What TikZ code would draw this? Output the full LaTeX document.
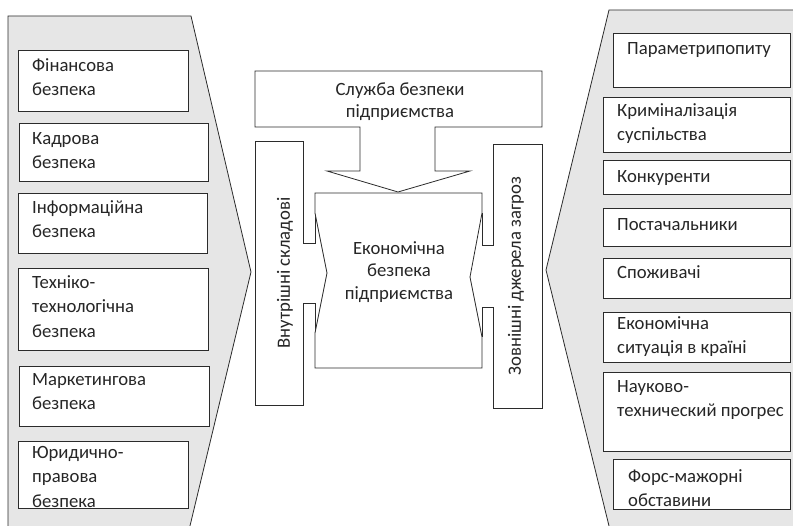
\documentclass[tikz,border=0pt]{standalone}
\usepackage{fontspec}
\setmainfont{Carlito}
\definecolor{panelgray}{HTML}{E6E6E6}
\definecolor{edge}{HTML}{2B2B2B}
\begin{document}
\begin{tikzpicture}[x=1pt,y=-1pt,
    box/.style={draw=edge,line width=0.8pt,fill=white,anchor=north west,inner sep=0pt},
    txt/.style={anchor=north west,inner sep=0pt,align=left,text=black!85,font=\fontsize{18.7}{24.5}\selectfont},
    ctxt/.style={anchor=north,inner sep=0pt,align=center,text=black!85,font=\fontsize{18.7}{22.5}\selectfont},
    vtxt/.style={rotate=90,inner sep=0pt,text=black!85,font=\fontsize{18.7}{22.5}\selectfont},
    panel/.style={draw=edge,line width=0.8pt,fill=panelgray},
    part/.style={draw=edge,line width=0.8pt,fill=white}]
  \clip (0,0) rectangle (793,526);
  % side panels
  \draw[panel] (8,16) -- (191,16) -- (251,272) -- (189,530) -- (8,530) -- cycle;
  \draw[panel] (609,10) -- (800,10) -- (800,530) -- (610,530) -- (546,270) -- cycle;
  % inner components
  \node[box,minimum width=170pt,minimum height=61pt] (fin) at (18,50) {};
  \node[box,minimum width=189pt,minimum height=58pt] (kadr) at (19,123) {};
  \node[box,minimum width=189pt,minimum height=60pt] (inf) at (18,193) {};
  \node[box,minimum width=190pt,minimum height=82pt] (tech) at (18,268) {};
  \node[box,minimum width=190pt,minimum height=60pt] (mark) at (19,366) {};
  \node[box,minimum width=170pt,minimum height=67pt] (yur) at (18,441) {};
  \node[txt] (fin-t) at (32,53.9) {\strut Фінансова\\безпека};
  \node[txt] (kadr-t) at (32,126.9) {\strut Кадрова\\безпека};
  \node[txt] (inf-t) at (32,195.9) {\strut Інформаційна\\безпека};
  \node[txt] (tech-t) at (32,270.9) {\strut Техніко-\\технологічна\\безпека};
  \node[txt] (mark-t) at (32,367.9) {\strut Маркетингова\\безпека};
  \node[txt] (yur-t) at (32,440.9) {\strut Юридично-\\правова\\безпека};
  % external threats
  \node[box,minimum width=177pt,minimum height=54pt] (par) at (613,33) {};
  \node[box,minimum width=187pt,minimum height=55pt] (krim) at (603,97) {};
  \node[box,minimum width=187pt,minimum height=34pt] (konk) at (603,160) {};
  \node[box,minimum width=187pt,minimum height=38pt] (post) at (603,208) {};
  \node[box,minimum width=187pt,minimum height=40pt] (spoz) at (603,258) {};
  \node[box,minimum width=187pt,minimum height=50pt] (ekon) at (603,312) {};
  \node[box,minimum width=187pt,minimum height=79pt] (nauk) at (603,372) {};
  \node[box,minimum width=177pt,minimum height=50pt] (fors) at (613,459) {};
  \node[txt] (par-t) at (627,36.9) {\strut Параметрипопиту};
  \node[txt] (krim-t) at (617,98.9) {\strut Криміналізація\\суспільства};
  \node[txt] (konk-t) at (617,164.9) {\strut Конкуренти};
  \node[txt] (post-t) at (617,212.9) {\strut Постачальники};
  \node[txt] (spoz-t) at (617,260.9) {\strut Споживачі};
  \node[txt] (ekon-t) at (617,311.9) {\strut Економічна\\ситуація в країні};
  \node[txt] (nauk-t) at (617,374.9) {\strut Науково-\\технический прогрес};
  \node[txt] (fors-t) at (628,464.9) {\strut Форс-мажорні\\обставини};
  % centre
  \draw[part] (255,71) -- (542,71) -- (542,127) -- (435,127) -- (435,171) -- (470,171)
    -- (398,192) -- (327,171) -- (360,171) -- (360,127) -- (255,127) -- cycle;
  \draw[part] (315,213) -- (315,243) -- (303,243) -- (303,141) -- (255,141) -- (255,405)
    -- (303,405) -- (303,303) -- (315,303) -- (315,333);
  \draw[part] (482,213) -- (482,245) -- (493,245) -- (493,144) -- (542,144) -- (542,408)
    -- (493,408) -- (493,307) -- (482,307) -- (482,337);
  \draw[part] (315,193) -- (482,193) -- (482,213) -- (470,277) -- (482,337) -- (482,368)
    -- (315,368) -- (315,333) -- (327,273) -- (315,213) -- cycle;
  \node[ctxt] (sl-t) at (400,79.3) {\strut Служба безпеки\\підприємства};
  \node[ctxt] (ek-t) at (399,238.3) {\strut Економічна\\безпека\\підприємства};
  \node[vtxt] (vn-t) at (285,273) {Внутрішні складові};
  \node[vtxt] (zn-t) at (516,276) {Зовнішні джерела загроз};
\end{tikzpicture}
\end{document}
